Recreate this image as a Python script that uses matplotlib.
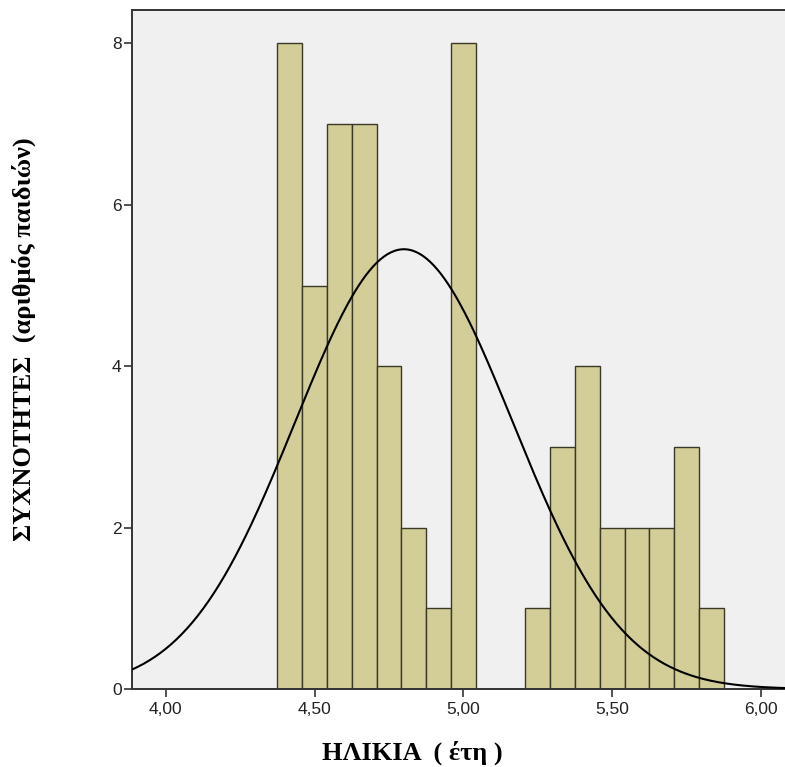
import numpy as np
import matplotlib
matplotlib.use("Agg")
import matplotlib.pyplot as plt

# age in months (one bar per month) and number of children
age_months = [53, 54, 55, 56, 57, 58, 59, 60, 61, 62, 63, 64, 65, 66, 67, 68, 69, 70]
counts = [8, 5, 7, 7, 4, 2, 1, 8, 0, 0, 1, 3, 4, 2, 2, 2, 3, 1]

# normal curve parameters
fit_mean = 4.80
fit_sd = 0.366

x_ticks = [4.0, 4.5, 5.0, 5.5, 6.0]
x_ticklabels = ["4,00", "4,50", "5,00", "5,50", "6,00"]
y_ticks = [0, 2, 4, 6, 8]

bin_width = 1 / 12
centers = np.array(age_months) / 12

fig = plt.figure(figsize=(7.85, 7.67), dpi=100)
ax = fig.add_axes([132 / 785, 1 - 689 / 767, 1 - 132 / 785, (689 - 10) / 767])
ax.set_facecolor("#f0f0f0")

ax.bar(centers, counts, width=bin_width, color="#d3ce98", edgecolor="#3a3826",
       linewidth=1.0, zorder=2)

# fitted normal curve scaled to counts
xs = np.linspace(3.8, 6.2, 400)
n = sum(counts)
ys = n * bin_width / (fit_sd * np.sqrt(2 * np.pi)) * np.exp(-0.5 * ((xs - fit_mean) / fit_sd) ** 2)
ax.plot(xs, ys, color="black", linewidth=1.5, zorder=3)

ax.set_xlim(3.886, 6.081)
ax.set_ylim(0, 8.415)

ax.set_xticks(x_ticks)
ax.set_xticklabels(x_ticklabels)
ax.set_yticks(y_ticks)
ax.tick_params(axis="both", direction="out", color="#333333", labelcolor="#222222",
               labelsize=12.5)
ax.tick_params(axis="x", length=5.5, width=1.2, pad=3.5)
ax.tick_params(axis="y", length=6, width=1.2, pad=1.5)
for lab in ax.get_xticklabels() + ax.get_yticklabels():
    lab.set_family("Liberation Sans")

for side in ["left", "bottom", "top"]:
    ax.spines[side].set_color("#333333")
    ax.spines[side].set_linewidth(1.4)
ax.spines["right"].set_visible(False)

fig.text(412 / 785, 1 - 760 / 767, "ΗΛΙΚΙΑ  ( έτη )", ha="center", va="baseline",
         family="Liberation Serif", fontweight="bold", fontsize=19)
fig.text(24 / 785, 1 - 339 / 767, "ΣΥΧΝΟΤΗΤΕΣ  (αριθμός παιδιών)", ha="center", va="center",
         rotation=90, family="Liberation Serif", fontweight="bold", fontsize=19)

fig.savefig("out.png", dpi=100)
